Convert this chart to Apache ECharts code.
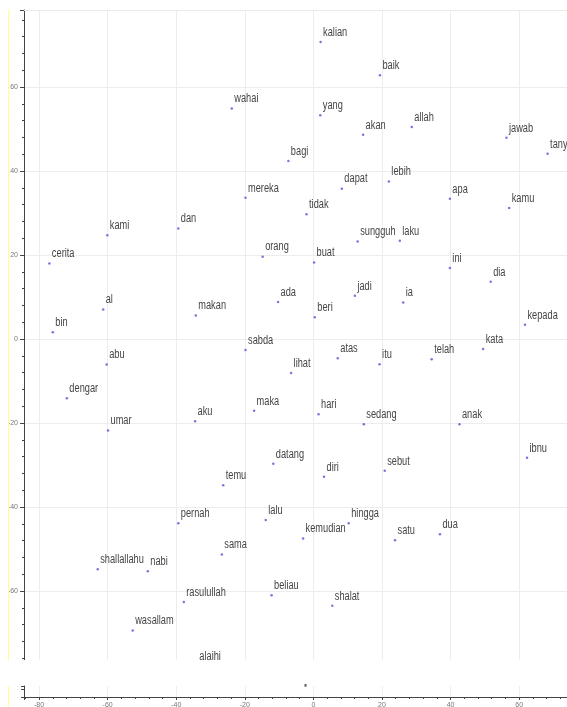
<!DOCTYPE html>
<html>
<head>
<meta charset="utf-8">
<title>Word embedding projection</title>
<script src="https://cdn.jsdelivr.net/npm/echarts@6/dist/echarts.min.js"></script>
<style>
  html, body { margin: 0; padding: 0; background: #ffffff; }
  #chart { width: 567px; height: 707px; }
</style>
</head>
<body>
<div id="chart"></div>
<script>
// Words and their 2-D projected coordinates
const words = ['kalian','baik','wahai','yang','allah','akan','jawab','tanya','bagi','lebih',
  'dapat','mereka','apa','kamu','tidak','kami','dan','sungguh','laku','orang',
  'buat','cerita','ini','dia','ada','jadi','ia','al','makan','beri',
  'kepada','bin','sabda','kata','atas','telah','abu','itu','lihat','dengar',
  'maka','hari','aku','sedang','anak','umar','ibnu','datang','diri','sebut',
  'temu','pernah','lalu','hingga','kemudian','satu','dua','sama','shallallahu','nabi',
  'beliau','rasulullah','shalat','wasallam','alaihi'];
const xs = [2.1, 19.4, -23.8, 2.0, 28.7, 14.5, 56.3, 68.3, -7.3, 22.0,
  8.3, -19.8, 39.8, 57.1, -2.0, -60.1, -39.4, 12.9, 25.2, -14.8,
  0.2, -77.0, 39.8, 51.7, -10.3, 12.1, 26.2, -61.3, -34.3, 0.4,
  61.7, -76.0, -19.8, 49.5, 7.1, 34.5, -60.3, 19.3, -6.5, -71.9,
  -17.3, 1.5, -34.5, 14.7, 42.6, -59.9, 62.3, -11.7, 3.1, 20.8,
  -26.3, -39.4, -13.9, 10.3, -3.0, 23.8, 36.9, -26.7, -62.9, -48.3,
  -12.2, -37.8, 5.5, -52.7, -34.0];
const ys = [70.7, 62.8, 54.9, 53.3, 50.5, 48.6, 47.9, 44.1, 42.4, 37.5,
  35.8, 33.6, 33.4, 31.2, 29.7, 24.7, 26.3, 23.2, 23.4, 19.6,
  18.2, 18.0, 16.9, 13.6, 8.8, 10.3, 8.7, 7.0, 5.6, 5.2,
  3.4, 1.6, -2.6, -2.4, -4.6, -4.8, -6.1, -6.0, -8.1, -14.1,
  -17.1, -17.9, -19.6, -20.3, -20.3, -21.8, -28.3, -29.7, -32.8, -31.4,
  -34.8, -43.9, -43.1, -43.9, -47.5, -47.9, -46.5, -51.3, -54.8, -55.3,
  -61.0, -62.6, -63.5, -69.4, -77.9];

// Visible window of the main view and the overview strip
const xRange = [-84.4, 90];
const yRange = [-76.43, 78.33];
const overviewY = [0, 1.5];
const overviewMarkX = [-2.3];
const overviewMarkY = [1.6];

const points = xs.map((x, i) => [x, ys[i]]);
const overviewMarks = overviewMarkX.map((x, i) => [x, overviewMarkY[i]]);

const axisFont = "'Liberation Sans', Arial, sans-serif";

const chart = echarts.init(document.getElementById('chart'), null, { renderer: 'canvas' });

// Word labels: condensed text placed just above and right of each point
function renderWord(params, api) {
  const p = api.coord([api.value(0), api.value(1)]);
  return {
    type: 'text',
    x: p[0] + 2.5,
    y: p[1] - 15.5,
    scaleX: 0.77,
    silent: true,
    style: {
      text: words[params.dataIndex],
      fill: '#444444',
      fontSize: 12,
      fontFamily: "'Liberation Sans', Arial, sans-serif",
      align: 'left',
      verticalAlign: 'top'
    }
  };
}

chart.setOption({
  animation: false,
  backgroundColor: '#ffffff',
  grid: [
    { left: 24, top: 10, width: 598, height: 650, outerBoundsMode: 'none', containLabel: false },
    { left: 24, top: 686, width: 598, height: 11, outerBoundsMode: 'none', containLabel: false }
  ],
  xAxis: [
    {
      gridIndex: 0, type: 'value', min: xRange[0], max: xRange[1], splitNumber: 9,
      position: 'top',
      axisLine: { show: false },
      axisTick: { show: false },
      axisLabel: { show: false },
      splitLine: { show: true, lineStyle: { color: '#ededed', width: 1 } }
    },
    {
      gridIndex: 1, type: 'value', min: xRange[0], max: xRange[1], splitNumber: 9,
      position: 'bottom',
      axisLine: { show: true, onZero: false, lineStyle: { color: '#444444', width: 1 } },
      axisTick: { show: true, length: 3, lineStyle: { color: '#444444' } },
      minorTick: { show: true, splitNumber: 5, length: 2, lineStyle: { color: '#444444' } },
      axisLabel: { show: true, fontSize: 7, color: '#777777', margin: 5,
        showMinLabel: false, showMaxLabel: false, fontFamily: axisFont },
      splitLine: { show: true, lineStyle: { color: '#eeeeee', width: 1 } }
    }
  ],
  yAxis: [
    {
      gridIndex: 0, type: 'value', min: yRange[0], max: yRange[1], splitNumber: 8,
      axisLine: { show: true, onZero: false, lineStyle: { color: '#444444', width: 1 } },
      axisTick: { show: true, length: 4, lineStyle: { color: '#444444' } },
      minorTick: { show: true, splitNumber: 5, length: 2, lineStyle: { color: '#444444' } },
      axisLabel: { show: true, fontSize: 7, color: '#777777', margin: 6,
        showMinLabel: false, showMaxLabel: false, fontFamily: axisFont },
      splitLine: { show: true, lineStyle: { color: '#ededed', width: 1 } }
    },
    {
      gridIndex: 1, type: 'value', min: overviewY[0], max: overviewY[1], splitNumber: 2,
      axisLine: { show: true, onZero: false, lineStyle: { color: '#444444', width: 1 } },
      axisTick: { show: true, length: 3, lineStyle: { color: '#444444' } },
      axisLabel: { show: false },
      splitLine: { show: false }
    }
  ],
  series: [
    {
      type: 'scatter',
      xAxisIndex: 0, yAxisIndex: 0,
      data: points,
      clip: false,
      symbol: 'circle',
      symbolSize: 2.5,
      itemStyle: { color: '#5555d5' },
      emphasis: { disabled: true }
    },
    {
      type: 'custom',
      xAxisIndex: 0, yAxisIndex: 0,
      data: points,
      clip: false,
      renderItem: renderWord,
      z: 3
    },
    {
      type: 'scatter',
      xAxisIndex: 1, yAxisIndex: 1,
      data: overviewMarks,
      clip: false,
      symbol: 'rect',
      symbolSize: [2, 3],
      itemStyle: { color: '#333333' },
      emphasis: { disabled: true }
    }
  ],
  graphic: [
    // frame outline along the top of the main view
    { type: 'line', z: 100, shape: { x1: 24, y1: 10.5, x2: 567, y2: 10.5 },
      style: { stroke: '#ebebe3', lineWidth: 1 } },
    // the main view clips whatever falls below its frame
    { type: 'rect', z: 100, shape: { x: 0, y: 660, width: 567, height: 24 },
      style: { fill: '#ffffff' } },
    // thin yellow guide along the left edge
    { type: 'line', z: 101, shape: { x1: 8.5, y1: 10, x2: 8.5, y2: 660 },
      style: { stroke: '#ffff8a', lineWidth: 1 } },
    { type: 'line', z: 101, shape: { x1: 8.5, y1: 686, x2: 8.5, y2: 707 },
      style: { stroke: '#ffff8a', lineWidth: 1 } }
  ]
});
</script>
</body>
</html>
